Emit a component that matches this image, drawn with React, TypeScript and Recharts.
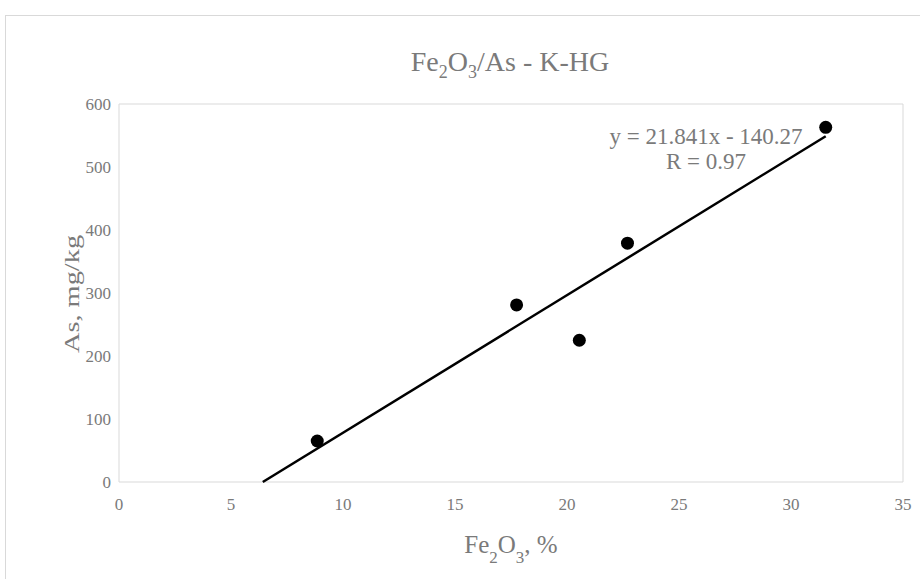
import React from 'react';
import {
  ScatterChart,
  Scatter,
  XAxis,
  YAxis,
  ReferenceLine,
} from 'recharts';

const feValues = [8.85, 17.75, 20.55, 22.7, 31.55];
const asValues = [65, 281, 225, 379, 563];
const trendEnds = [6.42, 31.55];
const slope = 21.841;
const intercept = -140.27;
const xTicks = [0, 5, 10, 15, 20, 25, 30, 35];
const yTicks = [0, 100, 200, 300, 400, 500, 600];

const points = feValues.map((x, i) => ({ x, y: asValues[i] }));
const trend = trendEnds.map(x => ({ x, y: slope * x + intercept }));

const textGray = '#7a7a7a';
const frameGray = '#d9d9d9';
const serif = '"Liberation Serif", "DejaVu Serif", serif';

const Dot = (props: any) => <circle cx={props.cx} cy={props.cy} r={6.5} fill="#000" />;
const NoDot = () => <g />;

const XLabel = (props: any) => {
  const vb = props.viewBox;
  const cx = vb.x + vb.width / 2;
  return (
    <text x={cx} y={553} textAnchor="middle" fill={textGray} fontSize={25} fontFamily={serif}>
      Fe<tspan baselineShift="sub" fontSize={17}>2</tspan>O<tspan baselineShift="sub" fontSize={17}>3</tspan>, %
    </text>
  );
};

// the y title looks stretched along its length in the picture
const YLabel = () => (
  <text
    x={0}
    y={0}
    transform="translate(79 294) rotate(-90) scale(1.35 1)"
    textAnchor="middle"
    fill={textGray}
    fontSize={21}
    fontFamily={serif}
  >
    As, mg/kg
  </text>
);

export default function App() {
  return (
    <div style={{ position: 'absolute', left: 0, top: 0, width: 920, height: 579, overflow: 'hidden', background: '#fff' }}>
      <div
        style={{
          position: 'absolute',
          left: 5,
          top: 15,
          width: 940,
          height: 600,
          border: `1px solid ${frameGray}`,
        }}
      />
      <div
        style={{
          position: 'absolute',
          left: 0,
          width: 1020,
          top: 45,
          textAlign: 'center',
          color: textGray,
          fontFamily: serif,
          fontSize: 28,
          lineHeight: '34px',
        }}
      >
        Fe<sub style={{ fontSize: 18 }}>2</sub>O<sub style={{ fontSize: 18 }}>3</sub>/As - K-HG
      </div>
      <div style={{ position: 'absolute', left: 0, top: 0 }}>
        <ScatterChart width={920} height={579} margin={{ top: 104, right: 17, bottom: 67, left: 59 }}>
          <XAxis
            type="number"
            dataKey="x"
            domain={[0, 35]}
            ticks={xTicks}
            interval={0}
            axisLine={{ stroke: frameGray }}
            tickLine={false}
            tickMargin={10}
            height={30}
            tick={{ fill: textGray, fontSize: 17, fontFamily: serif }}
            label={<XLabel />}
          />
          <YAxis
            type="number"
            dataKey="y"
            domain={[0, 600]}
            ticks={yTicks}
            interval={0}
            axisLine={{ stroke: frameGray }}
            tickLine={false}
            tickMargin={2}
            width={60}
            tick={{ fill: textGray, fontSize: 17, fontFamily: serif }}
            label={<YLabel />}
          />
          <ReferenceLine y={600} stroke={frameGray} />
          <ReferenceLine x={35} stroke={frameGray} />
          <Scatter
            data={trend}
            line={{ stroke: '#000', strokeWidth: 2.5 }}
            shape={NoDot}
            isAnimationActive={false}
          />
          <Scatter data={points} shape={Dot} isAnimationActive={false} />
        </ScatterChart>
      </div>
      <div
        style={{
          position: 'absolute',
          left: 556,
          width: 300,
          top: 124,
          textAlign: 'center',
          color: textGray,
          fontFamily: serif,
          fontSize: 23,
          lineHeight: '25px',
        }}
      >
        <div>y = 21.841x - 140.27</div>
        <div>R = 0.97</div>
      </div>
    </div>
  );
}
